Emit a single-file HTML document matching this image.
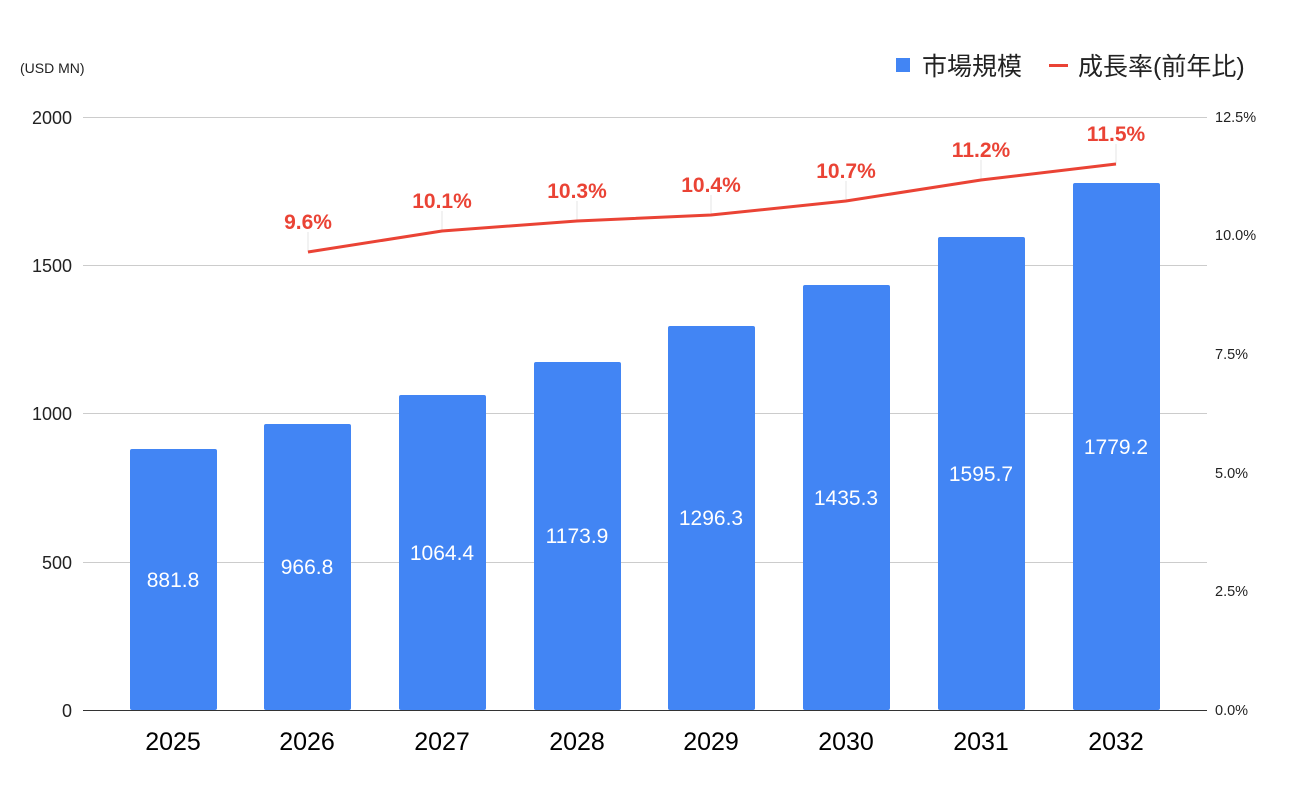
<!DOCTYPE html>
<html><head><meta charset="utf-8"><style>body{margin:0;background:#fff}</style></head><body>
<svg width="1300" height="796" xmlns="http://www.w3.org/2000/svg" font-family="Liberation Sans, Noto Sans CJK JP, sans-serif">
<rect width="1300" height="796" fill="#fff"/>
<text x="20" y="73" font-size="14" fill="#222">(USD MN)</text>
<rect x="896" y="58" width="14" height="14" fill="#4285f4"/>
<text x="922" y="75" font-size="25" fill="#222" font-family="Noto Sans CJK JP, sans-serif">市場規模</text>
<rect x="1049" y="64" width="19" height="3" fill="#ea4335"/>
<text x="1078" y="75" font-size="25" fill="#222" font-family="Liberation Sans, Noto Sans CJK JP, sans-serif">成長率(前年比)</text>
<g stroke="#cccccc" stroke-width="1">
<line x1="83" y1="117.5" x2="1207" y2="117.5"/><line x1="83" y1="265.5" x2="1207" y2="265.5"/>
<line x1="83" y1="413.5" x2="1207" y2="413.5"/><line x1="83" y1="562.5" x2="1207" y2="562.5"/>
</g>
<g font-size="18" fill="#222" text-anchor="end">
<text x="72" y="124">2000</text><text x="72" y="272">1500</text><text x="72" y="420">1000</text><text x="72" y="569">500</text><text x="72" y="717">0</text>
</g>
<g font-size="14.5" fill="#222">
<text x="1215" y="122">12.5%</text><text x="1215" y="240">10.0%</text><text x="1215" y="359">7.5%</text><text x="1215" y="478">5.0%</text><text x="1215" y="596">2.5%</text><text x="1215" y="715">0.0%</text>
</g>
<g fill="#4285f4">
<rect x="130" y="449" width="87" height="261" rx="2"/>
<rect x="264" y="424" width="87" height="286" rx="2"/>
<rect x="399" y="395" width="87" height="315" rx="2"/>
<rect x="534" y="362" width="87" height="348" rx="2"/>
<rect x="668" y="326" width="87" height="384" rx="2"/>
<rect x="803" y="285" width="87" height="425" rx="2"/>
<rect x="938" y="237" width="87" height="473" rx="2"/>
<rect x="1073" y="183" width="87" height="527" rx="2"/>
</g>
<line x1="83" y1="710.5" x2="1207" y2="710.5" stroke="#333" stroke-width="1"/>
<g font-size="21" fill="#fff" text-anchor="middle">
<text x="173" y="587">881.8</text><text x="307" y="574">966.8</text><text x="442" y="560">1064.4</text><text x="577" y="543">1173.9</text>
<text x="711" y="525">1296.3</text><text x="846" y="505">1435.3</text><text x="981" y="481">1595.7</text><text x="1116" y="454">1779.2</text>
</g>
<g font-size="25" fill="#000" text-anchor="middle">
<text x="173" y="750">2025</text><text x="307" y="750">2026</text><text x="442" y="750">2027</text><text x="577" y="750">2028</text>
<text x="711" y="750">2029</text><text x="846" y="750">2030</text><text x="981" y="750">2031</text><text x="1116" y="750">2032</text>
</g>
<g stroke="#e6e6e6" stroke-width="1">
<line x1="308" y1="232" x2="308" y2="252"/><line x1="442" y1="211" x2="442" y2="231"/><line x1="577" y1="201" x2="577" y2="221"/>
<line x1="711" y1="195" x2="711" y2="215"/><line x1="846" y1="181" x2="846" y2="201"/><line x1="981" y1="160" x2="981" y2="180"/><line x1="1116" y1="144" x2="1116" y2="164"/>
</g>
<polyline points="308,252 442,231 577,221 711,215 846,201 981,180 1116,164" fill="none" stroke="#ea4335" stroke-width="3"/>
<g font-size="21" font-weight="bold" fill="#ea4335" text-anchor="middle">
<text x="308" y="229">9.6%</text><text x="442" y="208">10.1%</text><text x="577" y="198">10.3%</text><text x="711" y="192">10.4%</text>
<text x="846" y="178">10.7%</text><text x="981" y="157">11.2%</text><text x="1116" y="141">11.5%</text>
</g>
</svg>
</body></html>
